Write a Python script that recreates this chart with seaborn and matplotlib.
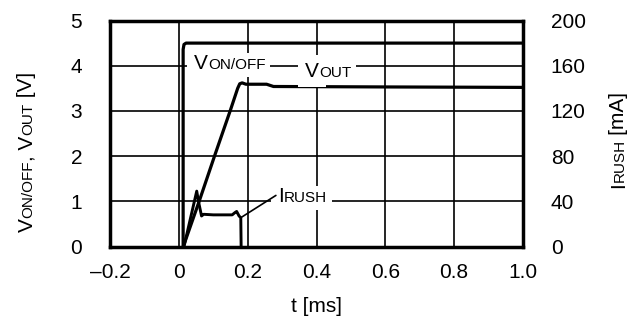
import matplotlib
matplotlib.use("Agg")
import matplotlib.pyplot as plt
import matplotlib.transforms as mtransforms
import pandas as pd
import seaborn as sns

# ---- data -------------------------------------------------------------
# ON/OFF control voltage [V] vs time [ms]
t_onoff = [0.0125, 0.0125, 0.015, 0.021, 1.0]
v_onoff = [0.0, 4.36, 4.47, 4.5, 4.5]

# Output voltage [V] vs time [ms]
t_out = [0.013, 0.06, 0.105, 0.15, 0.171, 0.177, 0.184, 0.195, 0.255, 0.275, 0.6, 1.0]
v_out = [0.0, 1.02, 2.03, 3.02, 3.5, 3.6, 3.62, 3.59, 3.59, 3.54, 3.53, 3.52]

# Inrush current [mA] vs time [ms]
t_rush = [0.015, 0.052, 0.057, 0.066, 0.072, 0.1, 0.155, 0.163, 0.168, 0.175, 0.18, 0.181]
i_rush = [0.0, 49.0, 40.0, 27.0, 28.5, 28.0, 28.0, 30.0, 31.0, 27.0, 25.5, 0.0]

x_ticks = [-0.2, 0.0, 0.2, 0.4, 0.6, 0.8, 1.0]
x_tick_labels = ["\u20130.2", "0", "0.2", "0.4", "0.6", "0.8", "1.0"]
v_ticks = [0, 1, 2, 3, 4, 5]
i_ticks = [0, 40, 80, 120, 160, 200]

# ---- style ------------------------------------------------------------
sns.set_theme(style="white")
FONT = "Liberation Sans"
plt.rcParams["font.family"] = [FONT, "DejaVu Sans"]
TICK_FS = 15
BIG = 15
SMALL = 11
INK = "black"

fig = plt.figure(figsize=(6.3, 3.2), dpi=100)
ax = fig.add_axes([110 / 630, 1 - 246.5 / 320, 413 / 630, 226 / 320])
ax2 = ax.twinx()

df_onoff = pd.DataFrame({"t": t_onoff, "v": v_onoff})
df_out = pd.DataFrame({"t": t_out, "v": v_out})
df_rush = pd.DataFrame({"t": t_rush, "i": i_rush})

line_kw = dict(color=INK, solid_joinstyle="round", solid_capstyle="butt", sort=False,
               estimator=None)
sns.lineplot(data=df_onoff, x="t", y="v", ax=ax, lw=2.3, **line_kw)
sns.lineplot(data=df_out, x="t", y="v", ax=ax, lw=2.3, **line_kw)
sns.lineplot(data=df_rush, x="t", y="i", ax=ax2, lw=2.1, **line_kw)

ax.set_xlim(-0.2, 1.0)
ax.set_ylim(0, 5)
ax2.set_ylim(0, 200)
ax.set_xticks(x_ticks, x_tick_labels)
ax.set_yticks(v_ticks)
ax2.set_yticks(i_ticks)
ax.set_xlabel("")
ax.set_ylabel("")
ax2.set_ylabel("")

ax.grid(True, color=INK, lw=1.2)
ax.set_axisbelow(True)
for s in ax.spines.values():
    s.set_visible(True)
    s.set_color(INK)
    s.set_linewidth(2.5)
for s in ax2.spines.values():
    s.set_visible(False)

ax.tick_params(axis="both", length=0, labelsize=TICK_FS, colors=INK)
ax.tick_params(axis="y", pad=20)
ax.tick_params(axis="x", pad=12)
ax2.tick_params(axis="y", length=0, labelsize=TICK_FS, colors=INK, pad=20)
for lab in ax.get_xticklabels() + ax.get_yticklabels() + ax2.get_yticklabels():
    lab.set_family([FONT, "DejaVu Sans"])


# ---- labels with small-capital subscripts ------------------------------
renderer = fig.canvas.get_renderer()


def advance(text, size):
    """Approximate pen advance of a string in pixels."""
    a = fig.text(0, 0, text + "l", fontsize=size, family=FONT)
    b = fig.text(0, 0, "l", fontsize=size, family=FONT)
    w = a.get_window_extent(renderer).width - b.get_window_extent(renderer).width
    a.remove()
    b.remove()
    return w


def draw_pieces(owner, x, y, pieces, transform, rotation=0, box=False, zorder=3):
    # white backing boxes first, then every piece of text above them
    passes = [True, False] if box else [False]
    for backing in passes:
        offset = 0.0
        for text, size in pieces:
            dx, dy = (0.0, offset) if rotation == 90 else (offset, 0.0)
            tr = mtransforms.offset_copy(transform, fig=fig, x=dx, y=dy, units="dots")
            kw = {}
            if backing:
                kw["bbox"] = dict(boxstyle="square,pad=0.32", fc="white", ec="none")
            owner.text(x, y, text, transform=tr, fontsize=size, family=FONT,
                       color=(0, 0, 0, 0) if backing else INK,
                       rotation=rotation, rotation_mode="anchor", ha="left",
                       va="baseline", zorder=zorder if backing else zorder + 0.5, **kw)
            offset += advance(text, size)


draw_pieces(ax, 0.0445, 3.92, [("V", BIG), ("ON/OFF", SMALL)], ax.transData, box=True)
draw_pieces(ax, 0.367, 3.76, [("V", BIG), ("OUT", SMALL)], ax.transData, box=True)
draw_pieces(ax, 0.288, 0.98, [("I", BIG), ("RUSH", SMALL)], ax.transData, box=True)

# leader from the inrush trace to its label
lead_t = t_rush[-2]
lead_v = i_rush[-2] * (ax.get_ylim()[1] / ax2.get_ylim()[1])
ax.annotate("", xy=(lead_t, lead_v), xytext=(0.282, 1.13), xycoords="data",
            arrowprops=dict(arrowstyle="-", color=INK, lw=1.2, shrinkA=0, shrinkB=0),
            zorder=4)

# axis titles
draw_pieces(fig, 32.5 / 630, 88 / 320,
            [("V", BIG), ("ON/OFF", SMALL), (", V", BIG), ("OUT", SMALL), (" [V]", BIG)],
            fig.transFigure, rotation=90)
draw_pieces(fig, 624 / 630, 132 / 320,
            [("I", BIG), ("RUSH", SMALL), ("\u2009[mA]", BIG)],
            fig.transFigure, rotation=90)
fig.text(316.5 / 630, 8 / 320, "t [ms]", fontsize=BIG, family=FONT, color=INK,
         ha="center", va="baseline")

fig.savefig("out.png", dpi=100)
